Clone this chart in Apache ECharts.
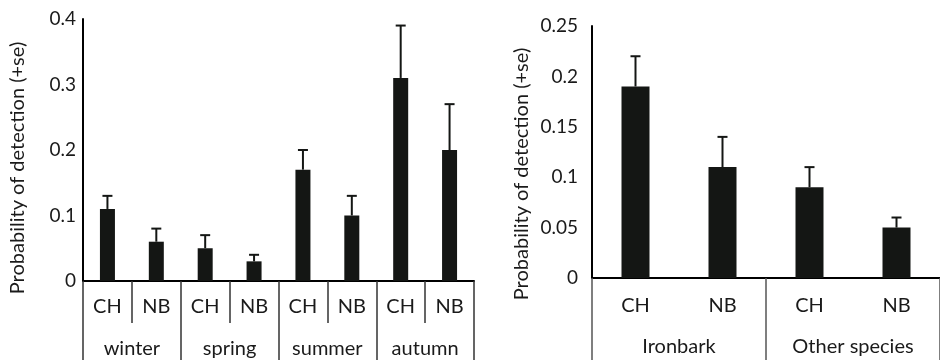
<!DOCTYPE html>
<html>
<head>
<meta charset="utf-8">
<script src="https://cdn.jsdelivr.net/npm/echarts@6/dist/echarts.min.js"></script>
<style>
    html, body { margin: 0; padding: 0; background: #fff; }
    #chartBox { width: 940px; height: 360px; }
</style>
</head>
<body>
<div id="chartBox"></div>
<script>
// left panel: season x site
var seasonNames = ['winter', 'spring', 'summer', 'autumn'];
var seasonSites = ['CH', 'NB', 'CH', 'NB', 'CH', 'NB', 'CH', 'NB'];
var seasonMeans = [0.11, 0.06, 0.05, 0.03, 0.17, 0.10, 0.31, 0.20];
var seasonUpper = [0.13, 0.08, 0.07, 0.04, 0.20, 0.13, 0.39, 0.27];

// right panel: tree species x site
var treeNames = ['Ironbark', 'Other species'];
var treeSites = ['CH', 'NB', 'CH', 'NB'];
var treeMeans = [0.19, 0.11, 0.09, 0.05];
var treeUpper = [0.22, 0.14, 0.11, 0.06];

var yName = 'Probability of detection (+se)';
var fontName = 'Lato';
var textColor = '#1a1a1a';
var barColor = '#141614';

function errData(means, upper) {
    return means.map(function (m, i) {
        return [i, m, upper[i]];
    });
}

/**
 * error bar: vertical stem + cap
 */
function renderErr(params, api) {
    var lo = api.coord([api.value(0), api.value(1)]);
    var hi = api.coord([api.value(0), api.value(2)]);
    var half = 5;
    var style = {stroke: barColor, lineWidth: 2};
    return {
        type: 'group',
        children: [
            {type: 'line', shape: {x1: lo[0], y1: lo[1], x2: hi[0], y2: hi[1]}, style: style},
            {type: 'line', shape: {x1: hi[0] - half, y1: hi[1], x2: hi[0] + half, y2: hi[1]}, style: style}
        ]
    };
}

function valueAxis(gridIndex, max, interval, labelMargin, nameGap, namePad) {
    return {
        type: 'value',
        gridIndex: gridIndex,
        min: 0,
        max: max,
        interval: interval,
        name: yName,
        nameLocation: 'middle',
        nameGap: nameGap,
        nameTextStyle: {fontFamily: fontName, fontSize: 20, color: textColor, padding: namePad},
        axisLine: {show: true, lineStyle: {color: '#000', width: 2}},
        axisTick: {show: false},
        splitLine: {show: false},
        axisLabel: {fontFamily: fontName, fontSize: 19, color: textColor, margin: labelMargin}
    };
}

var myChart = echarts.init(document.getElementById('chartBox'));
var option = {
    animation: false,
    grid: [
        {left: 83, right: 466, top: 19, bottom: 79},
        {left: 592, right: 0, top: 26, bottom: 82}
    ],
    xAxis: [
        {
            type: 'category',
            gridIndex: 0,
            position: 'bottom',
            data: seasonSites,
            axisLine: {show: true, lineStyle: {color: '#000', width: 2}},
            axisTick: {show: true, interval: 0, length: 42, lineStyle: {color: '#333', width: 1.5}},
            axisLabel: {interval: 0, fontFamily: fontName, fontSize: 20, color: textColor, margin: 16}
        },
        {
            type: 'category',
            gridIndex: 0,
            position: 'bottom',
            data: seasonNames,
            axisLine: {show: false},
            axisTick: {show: true, interval: 0, length: 79, lineStyle: {color: '#333', width: 1.5}},
            axisLabel: {interval: 0, fontFamily: fontName, fontSize: 20, color: textColor, margin: 58}
        },
        {
            type: 'category',
            gridIndex: 1,
            position: 'bottom',
            data: treeSites,
            axisLine: {show: true, lineStyle: {color: '#000', width: 2}},
            axisTick: {show: false},
            axisLabel: {interval: 0, fontFamily: fontName, fontSize: 20, color: textColor, margin: 18}
        },
        {
            type: 'category',
            gridIndex: 1,
            position: 'bottom',
            data: treeNames,
            axisLine: {show: false},
            axisTick: {show: true, interval: 0, length: 82, lineStyle: {color: '#555', width: 1.5}},
            axisLabel: {interval: 0, fontFamily: fontName, fontSize: 20, color: textColor, margin: 59}
        }
    ],
    yAxis: [
        valueAxis(0, 0.4, 0.1, 7, 55, [0, 36, 0, 0]),
        valueAxis(1, 0.25, 0.05, 14, 60, [0, 44, 0, 0])
    ],
    series: [
        {
            type: 'bar',
            xAxisIndex: 0,
            yAxisIndex: 0,
            barWidth: 15,
            itemStyle: {color: barColor},
            data: seasonMeans
        },
        {
            type: 'custom',
            xAxisIndex: 0,
            yAxisIndex: 0,
            renderItem: renderErr,
            encode: {x: 0, y: [1, 2]},
            data: errData(seasonMeans, seasonUpper)
        },
        {
            type: 'bar',
            xAxisIndex: 2,
            yAxisIndex: 1,
            barWidth: 28,
            itemStyle: {color: barColor},
            data: treeMeans
        },
        {
            type: 'custom',
            xAxisIndex: 2,
            yAxisIndex: 1,
            renderItem: renderErr,
            encode: {x: 0, y: [1, 2]},
            data: errData(treeMeans, treeUpper)
        }
    ]
};
myChart.setOption(option);
</script>
</body>
</html>
